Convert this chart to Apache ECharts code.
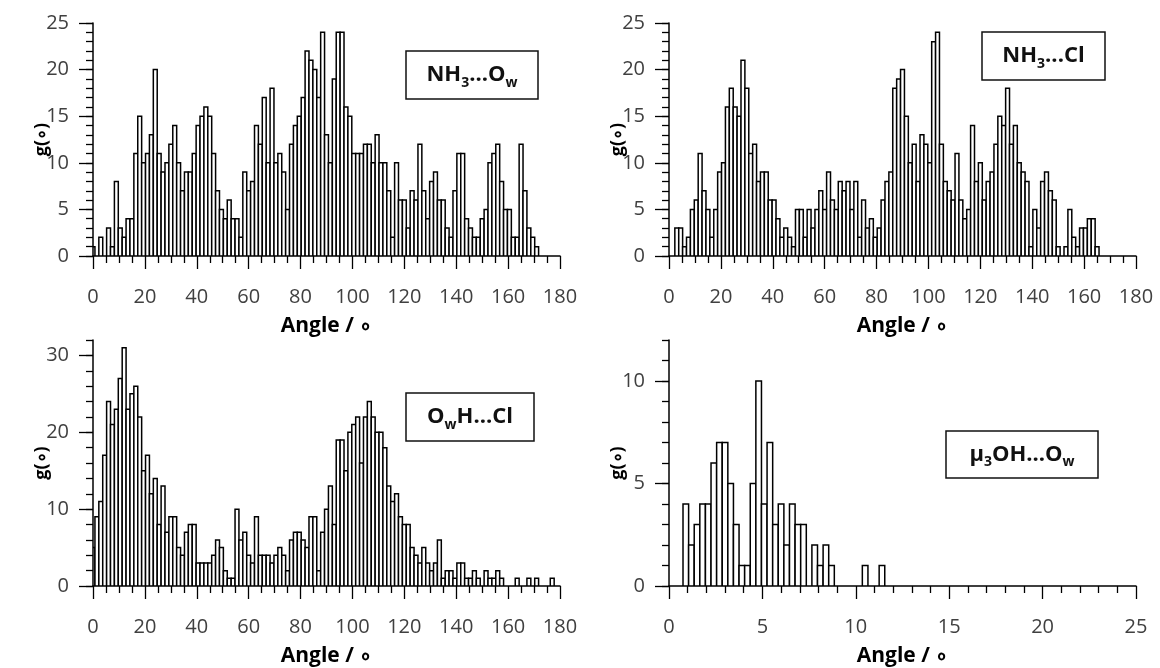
<!DOCTYPE html>
<html><head><meta charset="utf-8">
<script src="https://cdn.jsdelivr.net/npm/echarts@6/dist/echarts.min.js"></script>
<style>html,body{margin:0;padding:0;background:#fff}#c{width:1160px;height:668px}</style>
</head><body><div id="c"></div>
<script>
// ---- data (counts per bin; bins centred at k*binWidth) ----
const ANGLE_BIN = 1.5;
const RATIO_BIN = 0.3;
const nh3OwCounts = [1,0,2,0,3,1,8,3,2,4,4,11,15,10,11,13,20,11,9,10,12,14,10,7,9,9,11,14,15,16,15,11,7,5,4,6,4,4,2,9,7,8,14,12,17,10,18,10,11,9,5,12,14,15,17,22,21,20,17,24,13,10,19,24,24,16,15,11,11,11,12,12,10,13,10,10,7,2,10,6,6,3,7,6,12,7,4,8,9,6,6,3,2,7,11,11,4,3,2,2,4,5,10,11,12,8,5,5,2,2,12,7,3,2,1];
const nh3ClCounts = [0,0,3,3,1,2,5,6,11,7,5,2,5,9,10,16,18,16,15,21,18,11,12,8,9,9,6,6,4,2,3,2,1,5,5,2,5,3,5,7,5,9,6,5,8,7,8,5,8,2,6,3,4,2,3,6,8,9,18,19,20,15,10,12,8,13,12,10,23,24,12,8,7,6,11,6,4,5,14,8,10,6,8,9,12,15,14,18,12,14,10,9,8,1,5,3,8,9,7,6,1,0,1,5,2,1,3,3,4,4,1];
const owhClCounts = [5,9,11,17,24,21,23,27,31,23,25,26,22,15,17,12,14,8,13,7,9,9,5,4,7,8,8,3,3,3,3,4,6,5,2,1,1,10,6,7,4,3,9,4,4,4,3,4,5,4,2,6,7,7,6,5,9,9,2,7,10,13,8,19,19,15,20,21,22,16,22,24,22,20,20,18,13,11,12,9,8,8,5,4,3,5,3,2,3,6,1,2,2,1,3,3,1,1,2,1,0,2,1,1,2,1,0,0,0,1,0,0,1,0,1,0,0,0,1];
const mu3OhOwCounts = [0,0,0,4,2,3,4,4,6,7,7,5,3,1,1,5,10,4,7,3,4,2,4,3,3,0,2,1,2,1,0,0,0,0,0,1,0,0,1];

const angleMax = 180, angleStep = 20;
const ratioMax = 25, ratioStep = 5;
const ticks25 = [0,5,10,15,20,25];
const ticks32 = [0,10,20,30];
const ticks12 = [0,5,10];

const xTitle = 'Angle / \u2218';
const yTitle = 'g(\u2218)';
const labelNH3Ow = '{b|NH}{s|3}{b|...O}{s|w}';
const labelNH3Cl = '{b|NH}{s|3}{b|...Cl}';
const labelOwHCl = '{b|O}{s|w}{b|H...Cl}';
const labelMuOHOw = '{b|\u03bc}{s|3}{b|OH...O}{s|w}';

// ---- layout ----
const FONT = 'Open Sans';
const panels = [
  {counts:nh3OwCounts, bin:ANGLE_BIN, xMax:angleMax, xStep:angleStep, xSplit:4, yMax:25, yMajor:ticks25, yMinor:1,
   grid:{left:93, top:23, width:467, height:233}, box:[406,51,132,48], label:labelNH3Ow},
  {counts:nh3ClCounts, bin:ANGLE_BIN, xMax:angleMax, xStep:angleStep, xSplit:4, yMax:25, yMajor:ticks25, yMinor:1,
   grid:{left:669, top:23, width:467, height:233}, box:[982,32,123,48], label:labelNH3Cl},
  {counts:owhClCounts, bin:ANGLE_BIN, xMax:angleMax, xStep:angleStep, xSplit:4, yMax:32, yMajor:ticks32, yMinor:2,
   grid:{left:93, top:340, width:467, height:246}, box:[406,393,128,48], label:labelOwHCl},
  {counts:mu3OhOwCounts, bin:RATIO_BIN, xMax:ratioMax, xStep:ratioStep, xSplit:5, yMax:12, yMajor:ticks12, yMinor:1,
   grid:{left:669, top:340, width:467, height:246}, box:[946,431,152,47], label:labelMuOHOw},
];

const black = '#000';
const grids = [], xAxes = [], yAxes = [], series = [], graphics = [];

function renderItem(params, api) {
  const c = api.value(0), v = api.value(1), w = api.value(2);
  if (!v) return null;
  const lo = Math.max(c - w / 2, 0), hi = c + w / 2;
  const p0 = api.coord([lo, v]);
  const p1 = api.coord([hi, 0]);
  return {type:'rect', shape:{x:p0[0], y:p0[1], width:p1[0]-p0[0], height:p1[1]-p0[1]},
          style:{fill:'#fff', stroke:black, lineWidth:1.5}};
}

panels.forEach((p, i) => {
  grids.push(Object.assign({containLabel:false}, p.grid));
  xAxes.push({
    type:'value', gridIndex:i, min:0, max:p.xMax, interval:p.xStep,
    axisLine:{show:true, onZero:false, lineStyle:{color:black, width:1.5}},
    axisTick:{show:true, length:13, lineStyle:{color:black, width:1.3}},
    minorTick:{show:true, splitNumber:p.xSplit, length:7, lineStyle:{color:black, width:1.3}},
    axisLabel:{margin:31, color:'#404040', fontSize:20, fontFamily:FONT},
    splitLine:{show:false}, minorSplitLine:{show:false},
    name:xTitle, nameLocation:'middle', nameGap:60, nameMoveOverlap:false,
    nameTextStyle:{fontSize:21, fontWeight:'bold', color:black, fontFamily:FONT}
  });
  const mainY = yAxes.length;
  yAxes.push({
    type:'value', gridIndex:i, position:'left', min:0, max:p.yMax, interval:p.yMinor,
    axisLine:{show:true, onZero:false, lineStyle:{color:black, width:1.5}},
    axisTick:{show:true, length:14, customValues:p.yMajor, lineStyle:{color:black, width:1.3}},
    axisLabel:{margin:24, color:'#404040', fontSize:20, fontFamily:FONT, customValues:p.yMajor},
    splitLine:{show:false},
    name:yTitle, nameLocation:'middle', nameGap:42, nameMoveOverlap:false,
    nameTextStyle:{fontSize:18, fontWeight:'bold', color:black, fontFamily:FONT}
  });
  yAxes.push({
    type:'value', gridIndex:i, position:'left', offset:0, min:0, max:p.yMax, interval:p.yMinor,
    axisLine:{show:false}, axisLabel:{show:false}, splitLine:{show:false},
    axisTick:{show:true, length:7, lineStyle:{color:black, width:1.3}}
  });
  series.push({
    type:'custom', xAxisIndex:i, yAxisIndex:mainY, renderItem, clip:true, silent:true,
    data:p.counts.map((v, k) => [k * p.bin, v, p.bin])
  });
  const [bx, by, bw, bh] = p.box;
  graphics.push({type:'rect', shape:{x:bx, y:by, width:bw, height:bh},
    style:{fill:'#fff', stroke:'#111', lineWidth:1.5}, z:10});
  graphics.push({type:'text', x:bx + bw/2, y:by + bh/2, z:11,
    style:{text:p.label, align:'center', verticalAlign:'middle',
      rich:{
        b:{fontSize:22, fontWeight:'bold', fontFamily:FONT, fill:'#111', lineHeight:30, verticalAlign:'middle'},
        s:{fontSize:14, fontWeight:'bold', fontFamily:FONT, fill:'#111', lineHeight:14, verticalAlign:'bottom'}
      }}});
});

const chart = echarts.init(document.getElementById('c'), null, {renderer:'canvas'});
chart.setOption({
  animation:false,
  backgroundColor:'#fff',
  grid:grids, xAxis:xAxes, yAxis:yAxes, series, graphic:graphics
});
</script>
</body></html>
